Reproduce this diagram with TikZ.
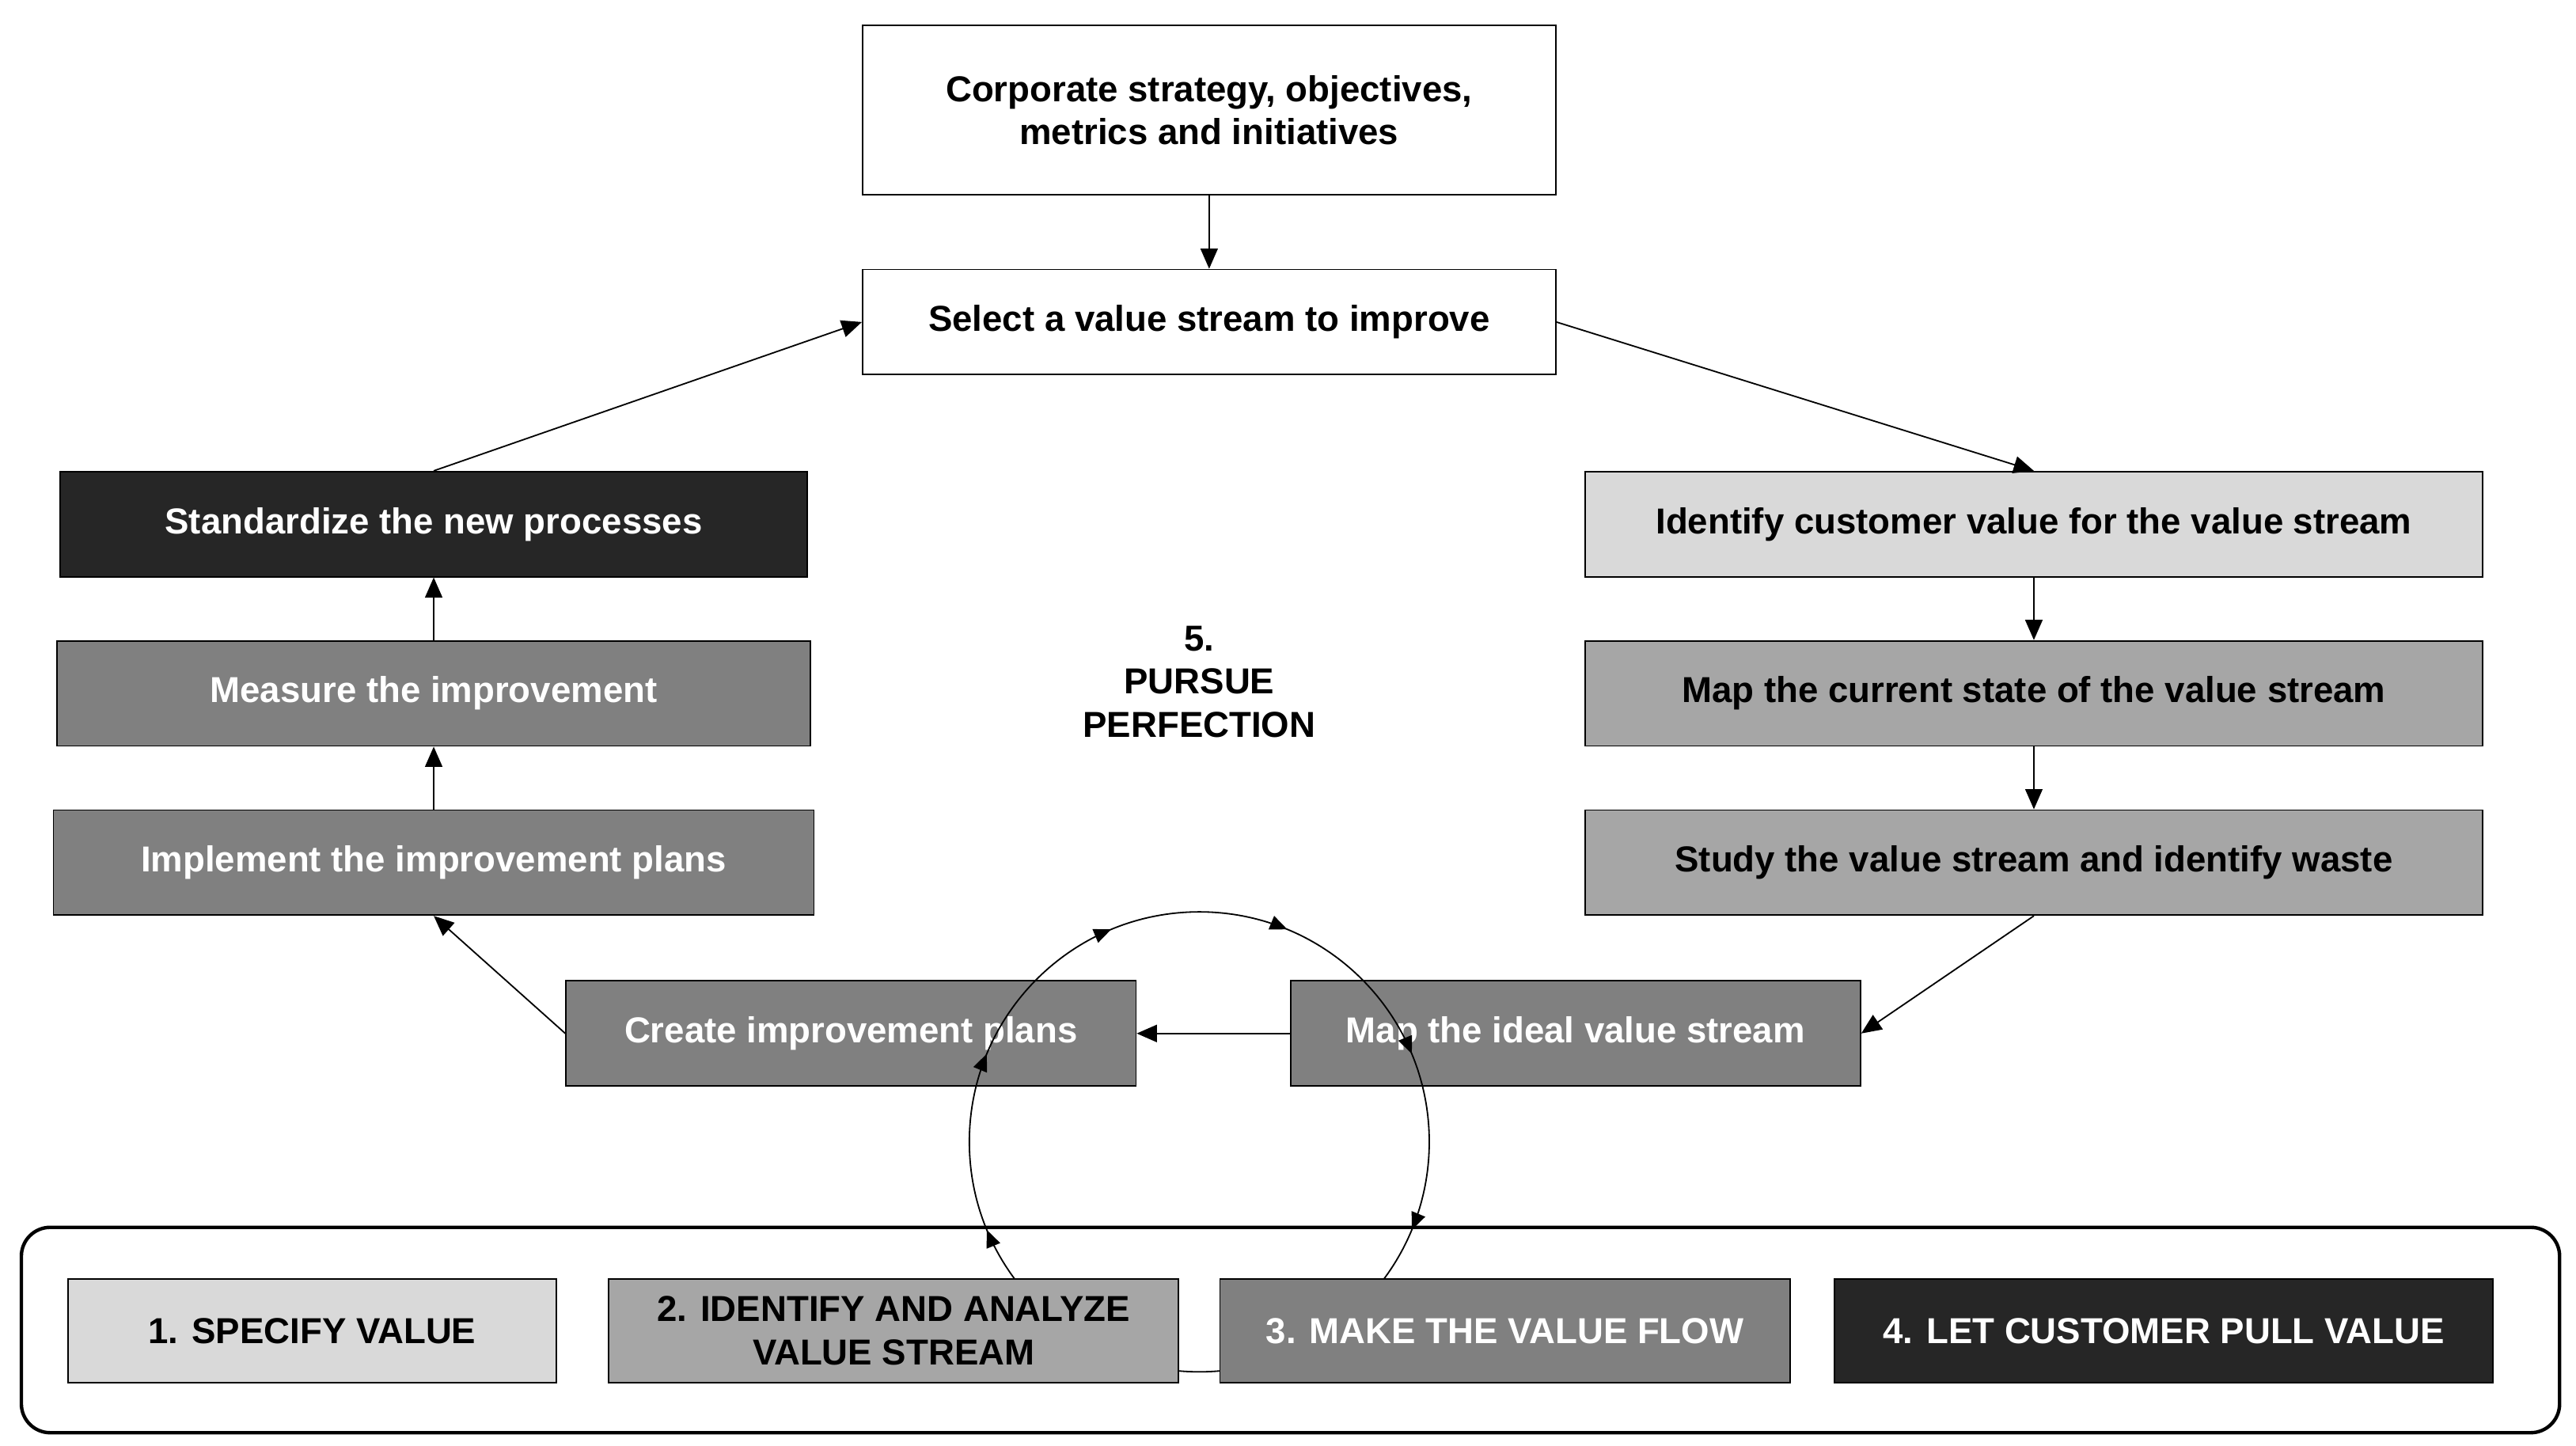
\documentclass[tikz,border=0pt]{standalone}
\usepackage{fontspec}
\setmainfont{Liberation Sans}
\usetikzlibrary{arrows.meta,decorations.markings}
\definecolor{lightbox}{HTML}{D9D9D9}
\definecolor{midbox}{HTML}{A6A6A6}
\definecolor{darkbox}{HTML}{808080}
\definecolor{blackbox}{HTML}{262626}
\tikzset{
  stepbox/.style={draw=black, line width=0.5pt, minimum height=1.28cm, align=center, font=\bfseries\fontsize{12.5}{15}\selectfont, inner sep=0pt},
  lightstep/.style={stepbox, fill=lightbox},
  midstep/.style={stepbox, fill=midbox},
  darkstep/.style={stepbox, fill=darkbox, text=white},
  blackstep/.style={stepbox, fill=blackbox, text=white},
  flow/.style={-{Triangle[length=7pt,width=6pt]}, line width=0.5pt}
}
\begin{document}
\begin{tikzpicture}[x=0.02cm, y=-0.02cm]
\useasboundingbox (0,0) rectangle (1568,880);
% steps
\node[stepbox, fill=white, minimum width=8.44cm, minimum height=2.06cm] (corp) at (736,67) {Corporate strategy, objectives,\\metrics and initiatives};
\node[stepbox, fill=white, minimum width=8.44cm] (select) at (736,196) {Select a value stream to improve};
\node[lightstep, minimum width=10.92cm] (ident) at (1238,319) {Identify customer value for the value stream};
\node[midstep, minimum width=10.92cm] (current) at (1238,422) {Map the current state of the value stream};
\node[midstep, minimum width=10.92cm] (study) at (1238,525) {Study the value stream and identify waste};
\node[darkstep, minimum width=6.94cm] (ideal) at (959,629) {Map the ideal value stream};
\node[darkstep, minimum width=6.94cm] (plans) at (518,629) {Create improvement plans};
\node[darkstep, minimum width=9.26cm] (impl) at (264,525) {Implement the improvement plans};
\node[darkstep, minimum width=9.18cm] (measure) at (264,422) {Measure the improvement};
\node[blackstep, minimum width=9.10cm] (stand) at (264,319) {Standardize the new processes};
% connectors
\draw[flow] (corp) -- (select);
\draw[flow] (select.east) -- (ident.north);
\draw[flow] (ident) -- (current);
\draw[flow] (current) -- (study);
\draw[flow] (study.south) -- (ideal.east);
\draw[flow] (ideal) -- (plans);
\draw[flow] (plans.west) -- (impl.south);
\draw[flow] (impl) -- (measure);
\draw[flow] (measure) -- (stand);
\draw[flow] (stand.north) -- (select.west);
% perfection cycle
\node[align=center, font=\bfseries\fontsize{12.5}{15}\selectfont] (perf) at (730,415) {5.\\PURSUE\\PERFECTION};
\draw[line width=0.5pt, postaction={decorate}, decoration={markings,
  mark=between positions 0.0625 and 1 step 0.125 with {\arrow{Triangle[length=6pt,width=5pt]}}}]
  (perf) ++(90:140) arc[start angle=90, end angle=-270, radius=2.8cm];
% legend
\draw[line width=1.2pt, rounded corners=10pt] (13,747) rectangle (1558,872);
\node[lightstep, minimum width=5.94cm, minimum height=1.26cm] (spec) at (190,810) {1. SPECIFY VALUE};
\node[midstep, minimum width=6.94cm, minimum height=1.26cm] (anal) at (544,810) {2. IDENTIFY AND ANALYZE\\VALUE STREAM};
\node[darkstep, minimum width=6.94cm, minimum height=1.26cm] (flowv) at (916,810) {3. MAKE THE VALUE FLOW};
\node[blackstep, minimum width=8.02cm, minimum height=1.26cm] (pull) at (1317,810) {4. LET CUSTOMER PULL VALUE};
\end{tikzpicture}
\end{document}
